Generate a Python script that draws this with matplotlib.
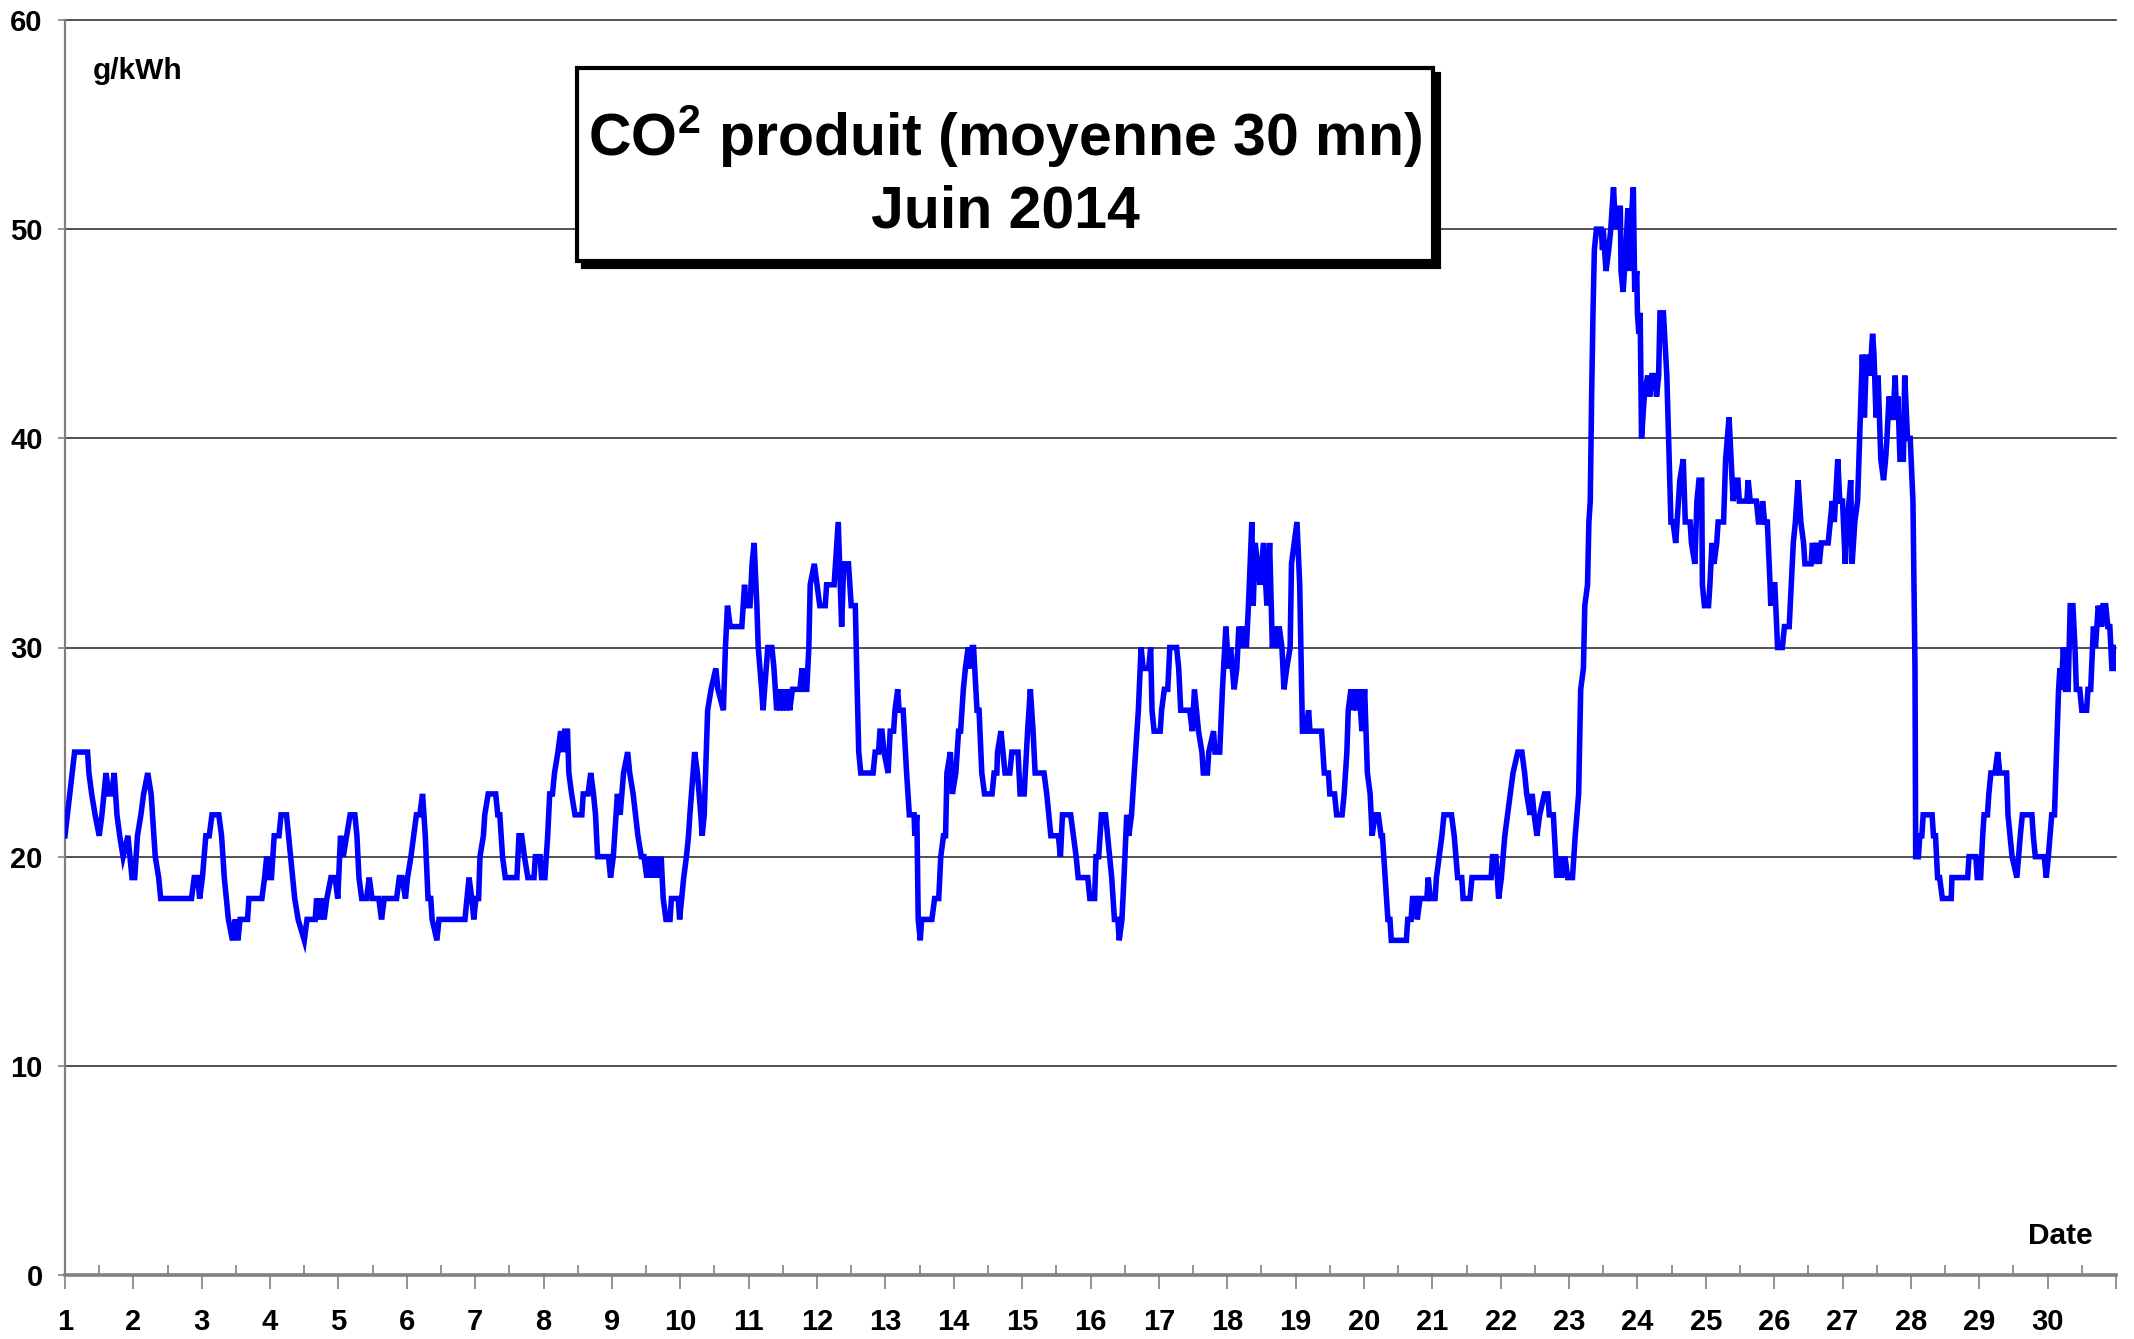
import matplotlib
matplotlib.use("Agg")
import matplotlib.pyplot as plt
from matplotlib.patches import Rectangle
from matplotlib.ticker import FixedLocator

plt.rcParams['font.family'] = ['Liberation Sans', 'DejaVu Sans']
plt.rcParams['mathtext.fontset'] = 'custom'
plt.rcParams['mathtext.rm'] = 'Liberation Sans'
plt.rcParams['mathtext.bf'] = 'Liberation Sans:bold'

# ---- data: (day of month, g/kWh) ----
days_01_06 = [(1.00, 21), (1.07, 23), (1.14, 25), (1.33, 25), (1.35, 24), (1.39, 23), (1.44, 22), (1.50, 21),
              (1.54, 22), (1.60, 24), (1.64, 23), (1.68, 23), (1.72, 24), (1.76, 22), (1.80, 21), (1.85, 20),
              (1.92, 21), (1.98, 19), (2.02, 19), (2.06, 21), (2.11, 22), (2.15, 23), (2.21, 24), (2.26, 23),
              (2.32, 20), (2.37, 19), (2.40, 18), (2.85, 18), (2.89, 19), (2.94, 19), (2.97, 18), (3.01, 19),
              (3.06, 21), (3.11, 21), (3.15, 22), (3.25, 22), (3.29, 21), (3.33, 19), (3.39, 17), (3.45, 16),
              (3.49, 17), (3.53, 16), (3.56, 17), (3.67, 17), (3.69, 18), (3.88, 18), (3.92, 19), (3.95, 20),
              (3.98, 19), (4.02, 19), (4.06, 21), (4.13, 21), (4.16, 22), (4.24, 22), (4.27, 21), (4.33, 19),
              (4.36, 18), (4.41, 17), (4.50, 16), (4.54, 17), (4.66, 17), (4.68, 18), (4.73, 17), (4.75, 18),
              (4.79, 17), (4.83, 18), (4.89, 19), (4.95, 19), (4.99, 18), (5.03, 21), (5.07, 20), (5.12, 21),
              (5.17, 22), (5.24, 22), (5.27, 21), (5.30, 19), (5.34, 18), (5.41, 18), (5.45, 19), (5.49, 18),
              (5.59, 18), (5.63, 17), (5.67, 18), (5.85, 18), (5.89, 19), (5.93, 19), (5.98, 18), (6.01, 19),
              (6.06, 20), (6.10, 21), (6.14, 22), (6.19, 22)]

days_06_11 = [(6.23, 23), (6.27, 21), (6.31, 18), (6.35, 18), (6.37, 17), (6.44, 16), (6.47, 17), (6.85, 17),
              (6.88, 18), (6.91, 19), (6.95, 18), (6.98, 17), (7.01, 18), (7.05, 18), (7.07, 20), (7.12, 21),
              (7.14, 22), (7.19, 23), (7.30, 23), (7.33, 22), (7.36, 22), (7.40, 20), (7.44, 19), (7.61, 19),
              (7.64, 21), (7.68, 21), (7.72, 20), (7.77, 19), (7.86, 19), (7.88, 20), (7.95, 20), (7.97, 19),
              (8.02, 19), (8.06, 21), (8.09, 23), (8.13, 23), (8.16, 24), (8.21, 25), (8.25, 26), (8.29, 25),
              (8.31, 26), (8.35, 26), (8.37, 24), (8.41, 23), (8.46, 22), (8.56, 22), (8.58, 23), (8.65, 23),
              (8.69, 24), (8.73, 23), (8.76, 22), (8.79, 20), (8.95, 20), (8.98, 19), (9.02, 20), (9.04, 21),
              (9.08, 23), (9.12, 22), (9.17, 24), (9.23, 25), (9.26, 24), (9.31, 23), (9.38, 21), (9.43, 20),
              (9.47, 20), (9.51, 19), (9.56, 20), (9.59, 19), (9.63, 20), (9.67, 19), (9.72, 20), (9.75, 18),
              (9.79, 17), (9.85, 17), (9.87, 18), (9.97, 18), (9.99, 17), (10.02, 18), (10.05, 19), (10.09, 20),
              (10.12, 21), (10.14, 22), (10.21, 25), (10.25, 24), (10.30, 22), (10.32, 21), (10.35, 22), (10.40, 27),
              (10.45, 28), (10.52, 29), (10.55, 28), (10.63, 27), (10.66, 30), (10.69, 32), (10.73, 31), (10.90, 31),
              (10.94, 33), (10.96, 32), (11.02, 32), (11.05, 34), (11.08, 35), (11.12, 32), (11.14, 30), (11.19, 28),
              (11.21, 27), (11.28, 30), (11.34, 30), (11.37, 29)]

days_11_16 = [(11.41, 27), (11.43, 28), (11.46, 27), (11.48, 28), (11.50, 27), (11.52, 28), (11.55, 27), (11.57, 28),
              (11.60, 27), (11.64, 28), (11.75, 28), (11.78, 29), (11.80, 28), (11.85, 28), (11.88, 30), (11.90, 33),
              (11.96, 34), (12.00, 33), (12.04, 32), (12.12, 32), (12.14, 33), (12.25, 33), (12.31, 36), (12.36, 31),
              (12.39, 34), (12.46, 34), (12.50, 32), (12.56, 32), (12.58, 29), (12.61, 25), (12.64, 24), (12.82, 24),
              (12.85, 25), (12.90, 25), (12.92, 26), (12.95, 26), (12.98, 25), (13.04, 24), (13.07, 26), (13.12, 26),
              (13.14, 27), (13.18, 28), (13.20, 27), (13.26, 27), (13.31, 24), (13.35, 22), (13.42, 22), (13.43, 21),
              (13.46, 22), (13.48, 17), (13.51, 16), (13.53, 17), (13.68, 17), (13.72, 18), (13.78, 18), (13.81, 20),
              (13.85, 21), (13.88, 21), (13.90, 24), (13.95, 25), (13.98, 23), (14.03, 24), (14.07, 26), (14.10, 26),
              (14.14, 28), (14.17, 29), (14.21, 30), (14.25, 29), (14.27, 30), (14.29, 30), (14.34, 27), (14.37, 27),
              (14.41, 24), (14.45, 23), (14.56, 23), (14.59, 24), (14.63, 24), (14.64, 25), (14.69, 26), (14.72, 25),
              (14.75, 24), (14.82, 24), (14.85, 25), (14.94, 25), (14.97, 23), (15.03, 23), (15.08, 26), (15.12, 28),
              (15.16, 26), (15.19, 24), (15.32, 24), (15.36, 23), (15.39, 22), (15.42, 21), (15.53, 21), (15.56, 20),
              (15.59, 22), (15.71, 22), (15.75, 21), (15.79, 20), (15.82, 19), (15.96, 19), (15.99, 18), (16.06, 18),
              (16.08, 20), (16.12, 20), (16.16, 22), (16.22, 22), (16.25, 21), (16.31, 19), (16.35, 17), (16.40, 17),
              (16.42, 16), (16.46, 17), (16.49, 19), (16.53, 22), (16.56, 21), (16.60, 22), (16.64, 24), (16.70, 27)]

days_16_22 = [(16.74, 30), (16.77, 29), (16.85, 29), (16.88, 30), (16.90, 27), (16.93, 26), (17.02, 26), (17.04, 27),
              (17.08, 28), (17.13, 28), (17.16, 30), (17.26, 30), (17.29, 29), (17.32, 27), (17.45, 27), (17.49, 26),
              (17.52, 28), (17.55, 27), (17.58, 26), (17.63, 25), (17.65, 24), (17.71, 24), (17.73, 25), (17.80, 26),
              (17.82, 25), (17.89, 25), (17.93, 28), (17.98, 31), (18.02, 29), (18.05, 30), (18.10, 28), (18.14, 29),
              (18.17, 31), (18.21, 30), (18.25, 31), (18.28, 30), (18.31, 32), (18.36, 36), (18.38, 32), (18.41, 35),
              (18.44, 34), (18.48, 33), (18.53, 35), (18.58, 32), (18.62, 35), (18.66, 30), (18.70, 31), (18.74, 30),
              (18.76, 31), (18.80, 30), (18.83, 28), (18.87, 29), (18.92, 30), (18.94, 34), (18.98, 35), (19.02, 36),
              (19.06, 33), (19.10, 26), (19.15, 26), (19.19, 27), (19.21, 26), (19.38, 26), (19.42, 24), (19.48, 24),
              (19.50, 23), (19.57, 23), (19.60, 22), (19.68, 22), (19.71, 23), (19.75, 25), (19.77, 27), (19.81, 28),
              (19.84, 27), (19.87, 28), (19.89, 27), (19.93, 28), (19.97, 26), (20.01, 28), (20.05, 24), (20.09, 23),
              (20.12, 21), (20.16, 22), (20.21, 22), (20.25, 21), (20.27, 21), (20.31, 19), (20.35, 17), (20.38, 17),
              (20.40, 16), (20.62, 16), (20.64, 17), (20.69, 17), (20.71, 18), (20.76, 18), (20.78, 17), (20.82, 18),
              (20.92, 18), (20.94, 19), (20.97, 18), (21.04, 18), (21.06, 19), (21.10, 20), (21.14, 21), (21.17, 22),
              (21.28, 22), (21.32, 21), (21.37, 19), (21.43, 19), (21.45, 18), (21.55, 18), (21.58, 19), (21.86, 19),
              (21.88, 20), (21.93, 20)]

days_22_28 = [(21.97, 18), (22.01, 19), (22.06, 21), (22.10, 22), (22.14, 23), (22.18, 24), (22.25, 25), (22.31, 25),
              (22.35, 24), (22.38, 23), (22.43, 22), (22.46, 23), (22.49, 22), (22.53, 21), (22.57, 22), (22.64, 23),
              (22.69, 23), (22.71, 22), (22.77, 22), (22.82, 19), (22.87, 20), (22.89, 19), (22.94, 20), (22.98, 19),
              (23.05, 19), (23.09, 21), (23.14, 23), (23.17, 28), (23.21, 29), (23.23, 32), (23.27, 33), (23.29, 36),
              (23.31, 37), (23.33, 42), (23.35, 46), (23.37, 49), (23.40, 50), (23.47, 50), (23.49, 49), (23.50, 50),
              (23.54, 48), (23.58, 49), (23.61, 50), (23.65, 52), (23.68, 50), (23.71, 51), (23.75, 51), (23.76, 48),
              (23.79, 47), (23.83, 49), (23.86, 51), (23.89, 48), (23.92, 51), (23.94, 52), (23.96, 47), (23.99, 48),
              (24.00, 46), (24.02, 45), (24.04, 46), (24.06, 40), (24.10, 42), (24.15, 43), (24.18, 42), (24.21, 43),
              (24.25, 43), (24.28, 42), (24.31, 43), (24.33, 46), (24.38, 46), (24.43, 43), (24.49, 36), (24.52, 36),
              (24.56, 35), (24.60, 37), (24.62, 38), (24.67, 39), (24.70, 36), (24.77, 36), (24.79, 35), (24.84, 34),
              (24.87, 37), (24.90, 38), (24.94, 38), (24.95, 33), (24.98, 32), (25.04, 32), (25.06, 33), (25.09, 35),
              (25.12, 34), (25.16, 35), (25.18, 36), (25.26, 36), (25.29, 39), (25.34, 41), (25.37, 39), (25.40, 37),
              (25.44, 38), (25.47, 38), (25.49, 37), (25.60, 37), (25.62, 38), (25.65, 37), (25.74, 37), (25.77, 36),
              (25.82, 36), (25.83, 37), (25.86, 36), (25.90, 36), (25.94, 33), (25.95, 32), (25.99, 33), (26.01, 33),
              (26.05, 30), (26.12, 30), (26.15, 31), (26.22, 31), (26.25, 33), (26.28, 35), (26.31, 36), (26.35, 38),
              (26.39, 36), (26.43, 35), (26.45, 34), (26.54, 34), (26.56, 35), (26.59, 34), (26.62, 35), (26.66, 34),
              (26.69, 35), (26.79, 35), (26.82, 36), (26.85, 37), (26.88, 36), (26.93, 39), (26.96, 37), (27.00, 37),
              (27.04, 34), (27.07, 36), (27.12, 38), (27.14, 34), (27.18, 36), (27.22, 37), (27.25, 40), (27.29, 44),
              (27.32, 41), (27.35, 44), (27.39, 43), (27.42, 44), (27.44, 45), (27.46, 44), (27.49, 41), (27.52, 43),
              (27.56, 39), (27.60, 38), (27.63, 39), (27.65, 40), (27.68, 42), (27.71, 41), (27.74, 41), (27.77, 43),
              (27.79, 41), (27.81, 42), (27.84, 39), (27.89, 39), (27.91, 43), (27.95, 40), (27.99, 40), (28.03, 37),
              (28.06, 29), (28.07, 20)]

days_28_30 = [(28.11, 20), (28.13, 21), (28.16, 21), (28.18, 22), (28.31, 22), (28.33, 21), (28.36, 21), (28.39, 19),
              (28.42, 19), (28.46, 18), (28.59, 18), (28.60, 19), (28.83, 19), (28.85, 20), (28.95, 20), (28.97, 19),
              (29.02, 19), (29.05, 21), (29.07, 22), (29.12, 22), (29.14, 23), (29.17, 24), (29.23, 24), (29.27, 25),
              (29.30, 24), (29.40, 24), (29.42, 22), (29.45, 21), (29.48, 20), (29.55, 19), (29.60, 21), (29.63, 22),
              (29.77, 22), (29.79, 21), (29.82, 20), (29.95, 20), (29.98, 19), (30.01, 20), (30.06, 22), (30.10, 22),
              (30.13, 25), (30.16, 28), (30.18, 29), (30.20, 28), (30.23, 30), (30.26, 28), (30.30, 28), (30.33, 32),
              (30.37, 32), (30.40, 30), (30.42, 28), (30.47, 28), (30.50, 27), (30.57, 27), (30.59, 28), (30.63, 28),
              (30.67, 31), (30.70, 30), (30.74, 32), (30.79, 31), (30.81, 32), (30.85, 32), (30.88, 31), (30.91, 31),
              (30.94, 29), (30.98, 29), (30.99, 30)]

day_labels = [str(d) for d in range(1, 31)]
y_ticks = [0, 10, 20, 30, 40, 50, 60]
title_line1 = r"CO$^{\mathbf{2}}$ produit (moyenne 30 mn)"
title_line2 = "Juin 2014"
unit_label = "g/kWh"
x_label = "Date"

series = days_01_06 + days_06_11 + days_11_16 + days_16_22 + days_22_28 + days_28_30
t = [p[0] for p in series]
v = [p[1] for p in series]

W, H = 2134, 1339
fig = plt.figure(figsize=(W / 100, H / 100), dpi=100)
fig.patch.set_facecolor('white')
ax = fig.add_axes([65 / W, 64 / H, 2051 / W, 1255 / H])

ax.set_xlim(1, 31)
ax.set_ylim(0, 60)

for y in y_ticks[1:]:
    ax.axhline(y, color='#222222', lw=1.1, zorder=1, clip_on=False)

ax.plot(t, v, color='#0000FF', lw=4.0, zorder=3, solid_joinstyle='miter')

for s in ['top', 'right']:
    ax.spines[s].set_visible(False)
ax.spines['left'].set_color('#808080')
ax.spines['left'].set_linewidth(1.6)
ax.spines['bottom'].set_color('#808080')
ax.spines['bottom'].set_linewidth(2.6)

ax.set_yticks(y_ticks)
ax.set_yticklabels([str(y) for y in y_ticks], fontsize=21, fontweight='bold')
ax.tick_params(axis='y', direction='out', length=5, width=1.2, color='#808080', pad=11)

ax.xaxis.set_major_locator(FixedLocator(list(range(1, 32))))
ax.set_xticklabels(day_labels + [''], fontsize=21, fontweight='bold')
ax.xaxis.set_minor_locator(FixedLocator([d + 0.5 for d in range(1, 31)]))
ax.tick_params(axis='x', which='major', direction='out', length=10, width=1.2, color='#808080', pad=14)
ax.tick_params(axis='x', which='minor', direction='in', length=7, width=1.2, color='#808080')

# title box with shadow
bx0, bx1, by0, by1 = 0.2496, 0.667, 0.808, 0.9618
sx, sy = 6 / 2051, 6 / 1255
ax.add_patch(Rectangle((bx0 + sx, by0 - sy), bx1 - bx0, by1 - by0, transform=ax.transAxes,
                       facecolor='black', edgecolor='black', lw=3, zorder=5))
ax.add_patch(Rectangle((bx0, by0), bx1 - bx0, by1 - by0, transform=ax.transAxes,
                       facecolor='white', edgecolor='black', lw=3, zorder=6))
cx = (bx0 + bx1) / 2
ax.text(cx, 0.9076, title_line1, transform=ax.transAxes, ha='center', va='center',
        fontsize=42.5, fontweight='bold', zorder=7)
ax.text(cx, 0.847, title_line2, transform=ax.transAxes, ha='center', va='center',
        fontsize=42.5, fontweight='bold', zorder=7)

ax.text(0.0137, 0.9594, unit_label, transform=ax.transAxes, ha='left', va='center',
        fontsize=21.5, fontweight='bold')
ax.text(0.9888, 0.031, x_label, transform=ax.transAxes, ha='right', va='center',
        fontsize=21.5, fontweight='bold')

fig.savefig('out.png', dpi=100, facecolor='white')
